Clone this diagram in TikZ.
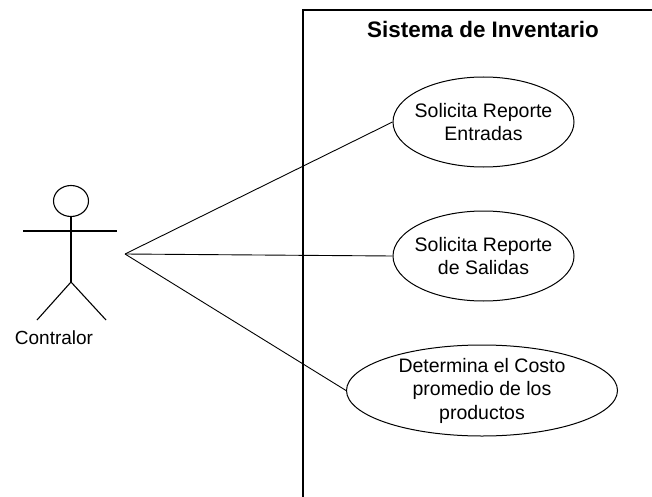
\documentclass[tikz,border=0pt]{standalone}
\usepackage{fontspec}
\setmainfont{Liberation Sans}
\usepackage{tikz}
\usetikzlibrary{shapes.geometric}

\begin{document}
\begin{tikzpicture}[x=1pt,y=-1pt,
	usecase/.style={shape=ellipse,draw=black,line width=1pt,inner sep=-6pt,align=center,font=\fontsize{19.5}{23.5}\selectfont},
	stick/.style={draw=black,line width=1.1pt},
	assoc/.style={draw=black,line width=0.9pt},
	border/.style={draw=black,line width=1.4pt}]
	\useasboundingbox (0,0) rectangle (652,497);

	% system boundary
	\coordinate (top right) at (652, 10);
	\coordinate (top left) at (303, 10);
	\coordinate (bottom left) at (303, 497);
	\path[border] (top right) -- (top left) -- (bottom left);
	\node[font=\fontsize{22.4}{25}\selectfont\bfseries] (title) at (483, 29) {Sistema de Inventario};

	% use cases
	\node[usecase,minimum width=181pt,minimum height=90pt] (entradas) at (483.5, 122) {Solicita Reporte\\Entradas};
	\node[usecase,minimum width=181pt,minimum height=90pt] (salidas) at (483.5, 256) {Solicita Reporte\\de Salidas};
	\node[usecase,minimum width=271pt,minimum height=91pt] (costo) at (482, 390.5) {Determina el Costo\\promedio de los\\productos};

	% actor
	\node[shape=ellipse,stick,inner sep=0pt,minimum width=35pt,minimum height=31pt] (head) at (71, 201) {};
	\coordinate (hip) at (71, 282);
	\coordinate (arm left) at (23, 231);
	\coordinate (arm right) at (117, 231);
	\coordinate (foot left) at (37, 320);
	\coordinate (foot right) at (106, 320);
	\node[font=\fontsize{19}{23}\selectfont] (contralor) at (54, 338) {Contralor};
	\path[stick] (head) -- (hip);
	\path[stick] (arm left) -- (arm right);
	\path[stick] (foot left) -- (hip) -- (foot right);

	% associations
	\coordinate (hub) at (125, 254);
	\path[assoc] (hub) edge (entradas.west);
	\path[assoc] (hub) edge (salidas.west);
	\path[assoc] (hub) edge (costo.west);

\end{tikzpicture}
\end{document}
